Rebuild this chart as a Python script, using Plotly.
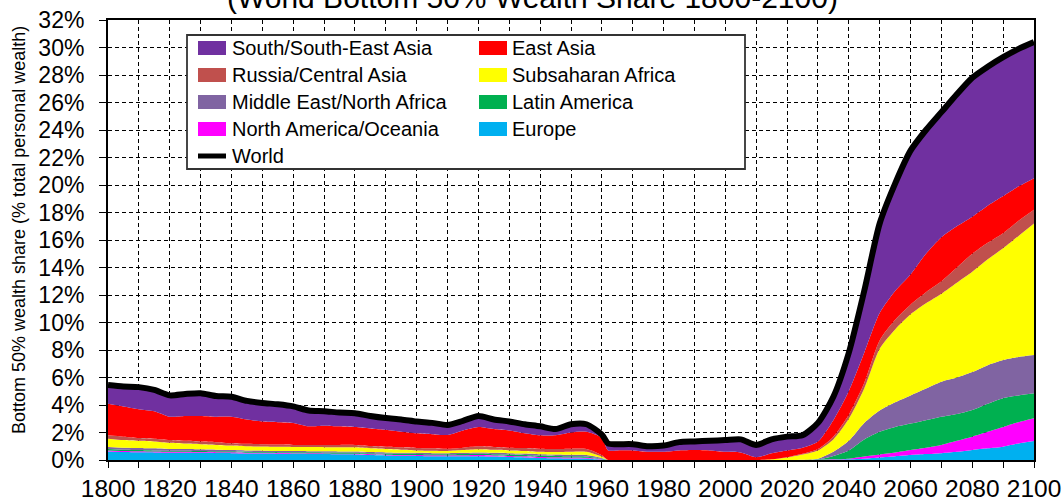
import plotly.graph_objects as go

years = [1800, 1805, 1810, 1815, 1820, 1825, 1830, 1835, 1840, 1845, 1850, 1855, 1860,
         1865, 1870, 1875, 1880, 1885, 1890, 1895, 1900, 1905, 1910, 1915, 1920, 1925,
         1930, 1935, 1940, 1945, 1950, 1955, 1960, 1962, 1965, 1970, 1975, 1980, 1985,
         1990, 1995, 2000, 2005, 2010, 2015, 2020, 2025, 2030, 2035, 2040, 2045, 2050,
         2055, 2060, 2065, 2070, 2075, 2080, 2085, 2090, 2095, 2100]

europe = [.62, .58, .56, .55, .53, .53, .52, .51, .50, .48, .47, .46, .45, .44, .43, .41, .40,
          .36, .33, .31, .30, .28, .27, .27, .28, .25, .22, .19, .15, .13, .11, .10, .03, 0,
          0, 0, 0, 0, 0, 0, 0, 0, 0, 0, 0, 0, 0,
          .01, .02, .05, .10, .18, .27, .36, .43, .50, .60, .73, .85, .97, 1.20, 1.38]
north_america = [.08, .08, .08, .07, .07, .07, .06, .06, .06, .05, .05, .05, .05, .05, .05, .05, .05,
                 .06, .06, .06, .06, .06, .06, .07, .08, .08, .08, .08, .07, .07, .07, .06, .03, 0,
                 0, 0, 0, 0, 0, 0, 0, 0, 0, 0, 0, 0, 0,
                 .01, .03, .05, .15, .22, .28, .37, .47, .60, .80, .97, 1.20, 1.43, 1.55, 1.65]
latin_america = [.10, .09, .09, .08, .08, .08, .08, .07, .07, .07, .06, .06, .07, .07, .07, .08, .08,
                 .08, .08, .08, .08, .08, .08, .09, .09, .09, .10, .10, .10, .10, .10, .10, .04, 0,
                 0, 0, 0, 0, 0, 0, 0, 0, 0, 0, 0, 0, 0,
                 .03, .25, .60, 1.25, 1.65, 1.85, 1.92, 2.00, 2.05, 1.95, 1.94, 2.05, 2.10, 1.95, 1.82]
mena = [.15, .15, .15, .15, .12, .12, .12, .11, .10, .10, .10, .09, .08, .08, .08, .08, .09,
        .08, .08, .08, .08, .08, .08, .09, .10, .11, .10, .10, .10, .10, .10, .10, .05, 0,
        0, 0, 0, 0, 0, 0, 0, 0, 0, 0, 0, 0, .02,
        .05, .30, .70, 1.20, 1.55, 1.80, 2.05, 2.30, 2.55, 2.65, 2.76, 2.80, 2.77, 2.80, 2.79]
subsaharan = [.60, .55, .52, .50, .45, .40, .37, .35, .32, .30, .30, .30, .30, .30, .30, .30, .30,
              .27, .25, .22, .18, .18, .17, .20, .23, .21, .20, .19, .18, .18, .22, .24, .10, 0,
              0, 0, 0, 0, 0, 0, 0, 0, 0, 0, .05, .18, .38,
              .60, .90, 1.60, 2.50, 4.50, 5.30, 5.90, 6.20, 6.40, 6.90, 7.30, 7.70, 8.13, 8.80, 9.56]
russia = [.25, .25, .20, .20, .20, .20, .20, .20, .17, .18, .17, .16, .15, .16, .17, .18, .18,
          .17, .17, .17, .18, .17, .16, .18, .22, .21, .20, .21, .22, .22, .22, .20, .10, 0,
          0, 0, 0, 0, 0, 0, 0, 0, 0, 0, 0, .02, .05,
          .10, .20, .30, .40, .60, .70, .70, .80, .90, 1.10, 1.30, 1.20, 1.10, 1.10, 1.00]
east_asia = [2.30, 2.20, 2.10, 2.00, 1.70, 1.80, 1.85, 1.85, 1.93, 1.77, 1.65, 1.63, 1.60, 1.35,
             1.40, 1.35, 1.30, 1.28, 1.23, 1.13, 1.06, 1.03, 1.00, 1.25, 1.40, 1.30, 1.25, 1.08,
             .98, 1.00, 1.18, 1.25, 1.25, .70,
             .70, .70, .60, .60, .70, .73, .70, .60, .55, .20, .45, .50, .45,
             .55, 1.20, 1.70, 2.20, 2.00, 2.10, 2.20, 2.80, 3.20, 3.00, 2.70, 2.70, 2.70, 2.50, 2.30]
south_asia = [1.35, 1.45, 1.60, 1.55, 1.55, 1.60, 1.65, 1.50, 1.45, 1.35, 1.35, 1.30, 1.20, 1.15,
              1.05, 1.00, 1.00, .90, .85, .90, .86, .82, .73, .70, .80, .70, .65, .65, .65, .45,
              .60, .55, .25, .50,
              .45, .45, .40, .45, .60, .62, .70, .85, .95, .90, 1.00, 1.00, .90,
              1.35, 1.70, 2.80, 4.50, 6.50, 7.80, 9.00, 9.00, 9.10, 9.60, 10.10, 10.10, 10.10, 10.00, 9.90]
world = [5.45, 5.35, 5.30, 5.10, 4.70, 4.80, 4.85, 4.65, 4.60, 4.30, 4.15, 4.05, 3.90, 3.60,
         3.55, 3.45, 3.40, 3.20, 3.05, 2.95, 2.80, 2.70, 2.55, 2.85, 3.20, 2.95, 2.80, 2.60,
         2.45, 2.25, 2.60, 2.60, 1.85, 1.20,
         1.15, 1.15, 1.00, 1.05, 1.30, 1.35, 1.40, 1.45, 1.50, 1.10, 1.50, 1.70, 1.80,
         2.70, 4.60, 7.80, 12.30, 17.20, 20.10, 22.50, 24.00, 25.30, 26.60, 27.80, 28.60,
         29.30, 29.90, 30.40]

# stacking order bottom -> top
layers = [
    ("Europe", europe, "#00B0F0"),
    ("North America/Oceania", north_america, "#FF00FF"),
    ("Latin America", latin_america, "#00B050"),
    ("Middle East/North Africa", mena, "#8064A2"),
    ("Subsaharan Africa", subsaharan, "#FFFF00"),
    ("Russia/Central Asia", russia, "#C0504D"),
    ("East Asia", east_asia, "#FF0000"),
    ("South/South-East Asia", south_asia, "#7030A0"),
]
legend_order = [["South/South-East Asia", "Russia/Central Asia", "Middle East/North Africa",
                 "North America/Oceania", "World"],
                ["East Asia", "Subsaharan Africa", "Latin America", "Europe"]]

title_text = "(World Bottom 50% Wealth Share 1800-2100)"
ytitle_text = "Bottom 50% wealth share (% total personal wealth)"

FONT = "Arial, Liberation Sans, sans-serif"
W, H = 1064, 501
L, R, T, B = 108, 30, 20, 41
PW, PH = W - L - R, H - T - B

def px2x(px):
    return (px - L) / PW

def py2y(py):
    return (H - B - py) / PH

SMOOTH = 0.7
fig = go.Figure()
for name, vals, col in layers:
    fig.add_trace(go.Scatter(x=years, y=vals, name=name, stackgroup="one", mode="none",
                             fillcolor=col, line=dict(shape="spline", smoothing=SMOOTH),
                             showlegend=False, hoverinfo="skip"))
fig.add_trace(go.Scatter(x=years, y=world, name="World", mode="lines",
                         line=dict(color="black", width=6, shape="spline", smoothing=SMOOTH),
                         showlegend=False))

grid = dict(gridcolor="black", griddash="4px,3px", gridwidth=1.3)
fig.update_xaxes(range=[1800, 2100], tick0=1800, dtick=20, showgrid=True, **grid,
                 ticks="outside", ticklen=6, tickcolor="black", tickwidth=1.3,
                 minor=dict(dtick=10, showgrid=True, gridcolor="black", griddash="4px,3px",
                            gridwidth=1.3, ticks="outside", ticklen=6, tickcolor="black"),
                 showline=True, linecolor="black", linewidth=2, mirror=True, automargin=False,
                 tickfont=dict(size=24.5, color="black", family=FONT), zeroline=False)
fig.update_yaxes(range=[0, 32], dtick=2, ticksuffix="%", showgrid=True, **grid,
                 ticks="outside", ticklen=7, tickcolor="black", tickwidth=1.3,
                 showline=True, linecolor="black", linewidth=2, mirror=True, automargin=False,
                 tickfont=dict(size=23, color="black", family=FONT), zeroline=False,
                 ticklabelstandoff=10)

shapes = []
annotations = []
# legend box
shapes.append(dict(type="rect", xref="paper", yref="paper", x0=px2x(187), x1=px2x(745),
                   y0=py2y(169), y1=py2y(35), fillcolor="white",
                   line=dict(color="#333333", width=1.8), layer="above"))
colors = {n: c for n, v, c in layers}
row_y = [48, 75, 102, 129, 156]
col_x = [(198, 226, 230), (479, 507, 510)]
for ci, names in enumerate(legend_order):
    x0, x1, xt = col_x[ci]
    for ri, name in enumerate(names):
        yc = row_y[ri]
        if name == "World":
            shapes.append(dict(type="line", xref="paper", yref="paper", x0=px2x(x0), x1=px2x(x1),
                               y0=py2y(yc), y1=py2y(yc), line=dict(color="black", width=5),
                               layer="above"))
        else:
            shapes.append(dict(type="rect", xref="paper", yref="paper", x0=px2x(x0), x1=px2x(x1),
                               y0=py2y(yc + 7), y1=py2y(yc - 7), fillcolor=colors[name],
                               line=dict(width=0), layer="above"))
        annotations.append(dict(text=name, xref="paper", yref="paper", x=px2x(xt), y=py2y(yc),
                                xanchor="left", yanchor="middle", showarrow=False,
                                font=dict(size=20, color="black", family=FONT)))

annotations.append(dict(text=title_text, xref="paper", yref="paper", x=px2x(532), y=py2y(-3),
                        xanchor="center", yanchor="middle", showarrow=False,
                        font=dict(size=30, color="black", family=FONT)))
annotations.append(dict(text=ytitle_text, xref="paper", yref="paper", x=px2x(19), y=py2y(230),
                        xanchor="center", yanchor="middle", showarrow=False, textangle=-90,
                        font=dict(size=18, color="black", family=FONT)))

fig.update_layout(width=W, height=H, margin=dict(l=L, r=R, t=T, b=B),
                  paper_bgcolor="white", plot_bgcolor="white", showlegend=False,
                  shapes=shapes, annotations=annotations, font=dict(family=FONT, color="black"))

fig.write_html("out.html", config={"displayModeBar": False})

# remove the default page margin so the figure sits at the window's top-left corner
with open("out.html", "r", encoding="utf-8") as f:
    html = f.read()
html = html.replace("<body>", '<body style="margin:0;padding:0;overflow:hidden">', 1)
with open("out.html", "w", encoding="utf-8") as f:
    f.write(html)
